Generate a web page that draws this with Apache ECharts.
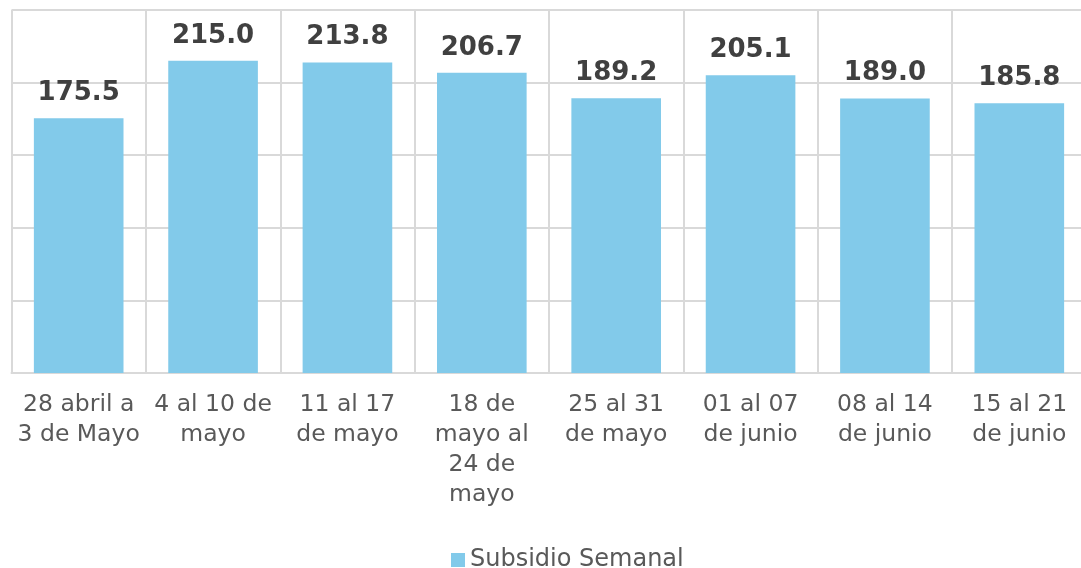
<!DOCTYPE html>
<html>
<head>
<meta charset="utf-8">
<script src="https://cdn.jsdelivr.net/npm/echarts@6/dist/echarts.min.js"></script>
<style>
html,body{margin:0;padding:0;background:#fff;overflow:hidden;width:1081px;height:568px;}
#c{width:1100px;height:568px;}
</style>
</head>
<body>
<div id="c"></div>
<script>
const categories = [
  "28 abril a\n3 de Mayo",
  "4 al 10 de\nmayo",
  "11 al 17\nde mayo",
  "18 de\nmayo al\n24 de\nmayo",
  "25 al 31\nde mayo",
  "01 al 07\nde junio",
  "08 al 14\nde junio",
  "15 al 21\nde junio"
];
const subsidioSemanal = [175.5, 215.0, 213.8, 206.7, 189.2, 205.1, 189.0, 185.8];
const seriesName = "Subsidio Semanal";

const chart = echarts.init(document.getElementById('c'), null, {renderer: 'canvas'});
chart.setOption({
  animation: false,
  textStyle: {fontFamily: 'DejaVu Sans'},
  grid: {left: 11.5, width: 1075, top: 10, height: 363, containLabel: false},
  xAxis: {
    type: 'category',
    data: categories,
    axisLine: {show: true, lineStyle: {color: '#d9d9d9', width: 2}},
    axisTick: {show: false},
    splitLine: {show: true, interval: 0, lineStyle: {color: '#d9d9d9', width: 2}},
    axisLabel: {
      interval: 0,
      color: '#595959',
      fontFamily: 'DejaVu Sans',
      fontSize: 23.5,
      lineHeight: 30,
      margin: 17
    }
  },
  yAxis: {
    type: 'value',
    min: 0,
    max: 250,
    interval: 50,
    axisLabel: {show: false},
    axisLine: {show: false},
    axisTick: {show: false},
    splitLine: {show: true, lineStyle: {color: '#d9d9d9', width: 2}}
  },
  legend: {
    top: 543,
    left: 446,
    icon: 'rect',
    itemWidth: 14,
    itemHeight: 14,
    textStyle: {color: '#595959', fontSize: 24, fontFamily: 'DejaVu Sans'},
    data: [seriesName]
  },
  series: [{
    name: seriesName,
    type: 'bar',
    data: subsidioSemanal,
    barWidth: '66.7%',
    itemStyle: {color: '#82CAEA'},
    label: {
      show: true,
      position: 'top',
      distance: 12,
      formatter: p => p.value.toFixed(1),
      color: '#404040',
      fontWeight: 'bold',
      fontSize: 26,
      fontFamily: 'DejaVu Sans'
    }
  }]
});
</script>
</body>
</html>
